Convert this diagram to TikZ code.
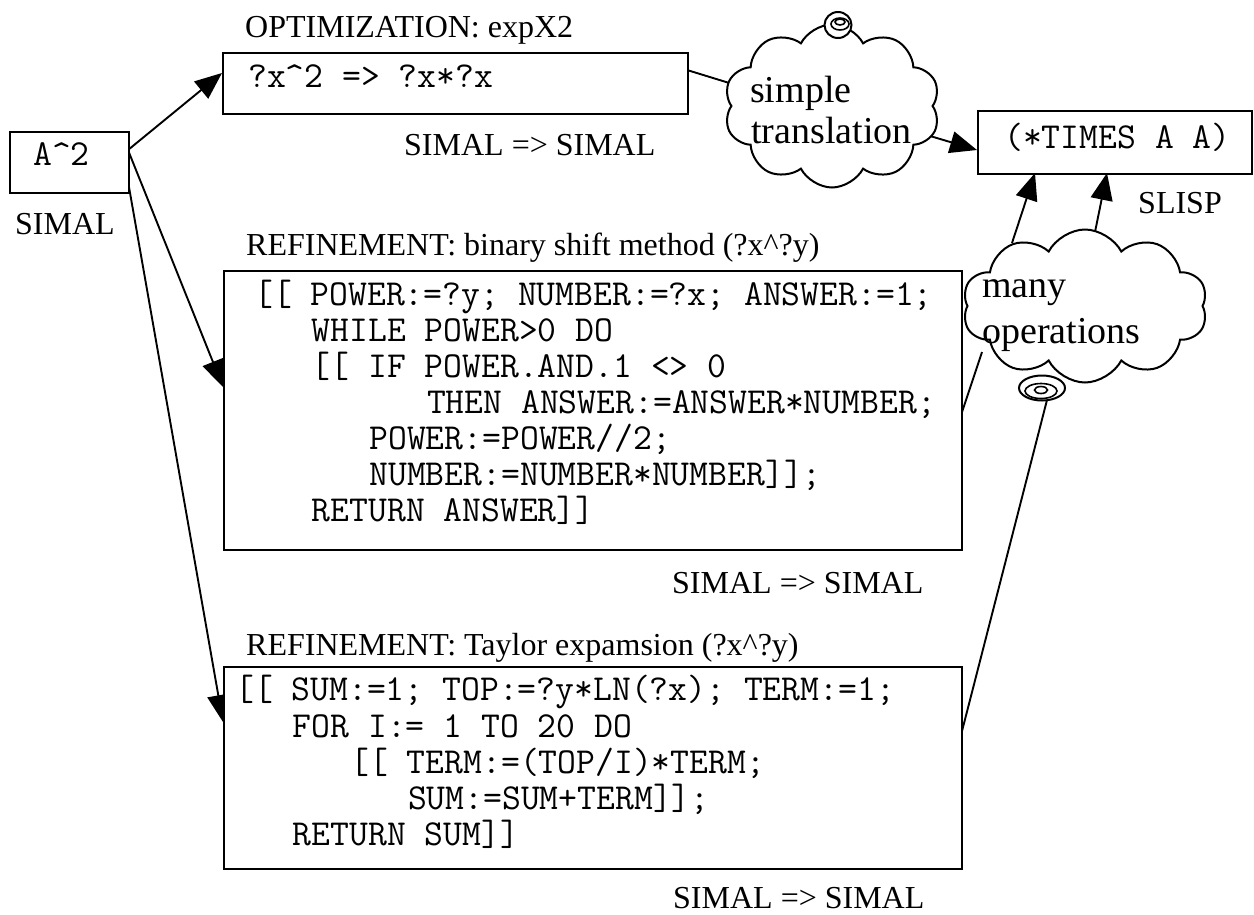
\documentclass[tikz,border=0pt]{standalone}
\usepackage{fontspec}
\setmainfont{Liberation Serif}
\usetikzlibrary{shapes.symbols,shapes.geometric,arrows.meta}
\tikzset{
  box/.style={draw, line width=2.4pt, fill=white, inner sep=0pt, anchor=north west},
  lbl/.style={font=\fontsize{32}{36}\selectfont, anchor=base west, inner sep=0pt},
  code/.style={font=\ttfamily\fontsize{36.6}{40}\selectfont, anchor=base west, inner sep=0pt},
  cltext/.style={font=\fontsize{38}{42}\selectfont, anchor=base west, inner sep=0pt},
  conn/.style={line width=1.9pt},
  arr/.style={conn, -{Triangle[length=27pt,width=22pt]}},
  cloudbox/.style={cloud, draw, line width=2pt, fill=white, cloud puffs=10, cloud puff arc=125, cloud ignores aspect, inner sep=0pt},
  bubble/.style={ellipse, draw, line width=2pt, fill=white, inner sep=0pt},
}
\begin{document}
\begin{tikzpicture}[x=1pt,y=-1pt]
\useasboundingbox (0,0) rectangle (1254,914);
% connector end points
\coordinate (a2o1) at (128,150);
\coordinate (a2o2) at (126,170);
\coordinate (optin) at (222,73);
\coordinate (binin) at (223,387);
\coordinate (tayin) at (223,722);
\coordinate (optout) at (687,70);
\coordinate (c1in) at (739,86);
\coordinate (c1out) at (920,133);
\coordinate (slin1) at (977,150);
\coordinate (c2out1) at (1012,243);
\coordinate (slin2) at (1035,173);
\coordinate (c2out2) at (1095,232);
\coordinate (slin3) at (1107,173);
\coordinate (binout) at (961,415);
\coordinate (c2in) at (982,352);
\coordinate (tayout) at (961,735);
\coordinate (b2in) at (1047,400);
% connectors
\draw[arr] (a2o1) -- (optin);
\draw[arr] (a2o1) -- (binin);
\draw[arr] (a2o2) -- (tayin);
\draw[conn] (optout) -- (c1in);
\draw[arr] (c1out) -- (slin1);
\draw[arr] (c2out1) -- (slin2);
\draw[arr] (c2out2) -- (slin3);
\draw[conn] (binout) -- (c2in);
\draw[conn] (tayout) -- (b2in);
% boxes
\node[box, minimum width=119pt, minimum height=61pt] (a2) at (9,131) {};
\node[box, minimum width=465pt, minimum height=61pt] (opt) at (222,52) {};
\node[box, minimum width=738pt, minimum height=279pt] (bin) at (223,270) {};
\node[box, minimum width=738pt, minimum height=202pt] (tay) at (223,666) {};
\node[box, minimum width=274pt, minimum height=63pt] (slisp) at (977,110) {};
% clouds
\node[cloudbox, minimum width=216pt, minimum height=163pt] (c1) at (832,106) {};
\node[cloudbox, minimum width=245pt, minimum height=153pt] (c2) at (1085,306) {};
\node[bubble, minimum width=27pt, minimum height=26pt] (b1) at (838,25) {};
\draw[line width=1.6pt] (840,24) ellipse [x radius=9pt, y radius=6pt];
\draw[line width=1.6pt] (840,22) ellipse [x radius=5pt, y radius=3pt];
\node[bubble, minimum width=46pt, minimum height=25pt] (b2) at (1042,388) {};
\draw[line width=1.6pt] (1041,391) ellipse [x radius=16pt, y radius=7.5pt];
\draw[line width=1.6pt] (1041,390) ellipse [x radius=6.5pt, y radius=3.5pt];
% texts
\node[code] (a2t) at (33,165) {A\textasciicircum 2};
\node[lbl] (simal0) at (15,234) {SIMAL};
\node[lbl] (optlbl) at (245,37) {OPTIMIZATION: expX2};
\node[code] (optt) at (248,87) {?x\textasciicircum 2 => ?x*?x};
\node[lbl] (simal1) at (404,155) {SIMAL => SIMAL};
\node[lbl] (binlbl) at (246,255) {REFINEMENT: binary shift method (?x\textasciicircum ?y)};
\node[code] (bin1) at (254,305) {[[ POWER:=?y; NUMBER:=?x; ANSWER:=1;};
\node[code] (bin2) at (311.6,341) {WHILE POWER>0 DO};
\node[code] (bin3) at (311.6,377) {[[ IF POWER.AND.1 <> 0};
\node[code] (bin4) at (426.8,413) {THEN ANSWER:=ANSWER*NUMBER;};
\node[code] (bin5) at (369.2,449) {POWER:=POWER//2;};
\node[code] (bin6) at (369.2,485) {NUMBER:=NUMBER*NUMBER]];};
\node[code] (bin7) at (311.6,521) {RETURN ANSWER]]};
\node[lbl] (simal2) at (672,593) {SIMAL => SIMAL};
\node[lbl] (taylbl) at (246,655) {REFINEMENT: Taylor expamsion (?x\textasciicircum ?y)};
\node[code] (tay1) at (235,700) {[[ SUM:=1; TOP:=?y*LN(?x); TERM:=1;};
\node[code] (tay2) at (292.6,737) {FOR I:= 1 TO 20 DO};
\node[code] (tay3) at (350.2,773) {[[ TERM:=(TOP/I)*TERM;};
\node[code] (tay4) at (407.8,809) {SUM:=SUM+TERM]];};
\node[code] (tay5) at (292.6,845) {RETURN SUM]]};
\node[lbl] (simal3) at (673,908) {SIMAL => SIMAL};
\node[code] (slt) at (1004,148) {(*TIMES A A)};
\node[lbl] (slispl) at (1138,213) {SLISP};
\node[cltext] (c1a) at (750,102) {simple};
\node[cltext] (c1b) at (751,143) {translation};
\node[cltext] (c2a) at (982,297) {many};
\node[cltext] (c2b) at (982,343) {operations};
\end{tikzpicture}
\end{document}
